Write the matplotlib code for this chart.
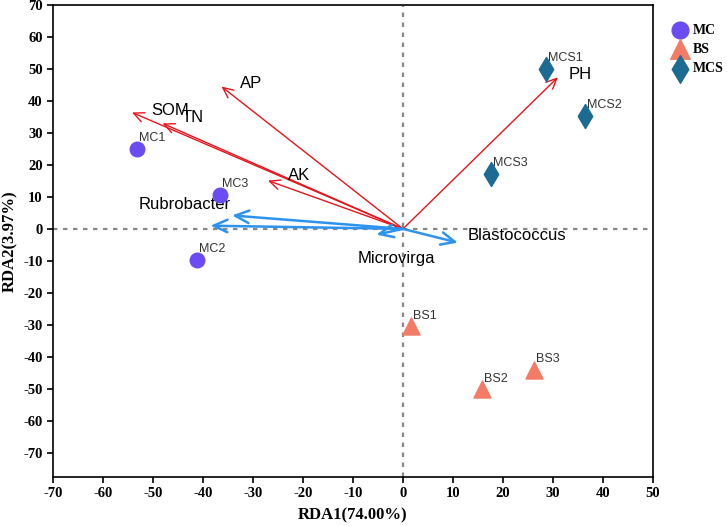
import matplotlib
matplotlib.use("Agg")
import matplotlib.pyplot as plt

plt.rcParams["axes.unicode_minus"] = False

# sample scores
mc_x = [-53.3, -41.3, -36.7]
mc_y = [24.9, -9.8, 10.5]
mc_names = ["MC1", "MC2", "MC3"]
bs_x = [1.6, 15.8, 26.3]
bs_y = [-30.5, -50.2, -44.0]
bs_names = ["BS1", "BS2", "BS3"]
mcs_x = [28.7, 36.5, 17.6]
mcs_y = [50.0, 35.3, 17.2]
mcs_names = ["MCS1", "MCS2", "MCS3"]

# environmental factors (red) and genera (blue)
env_names = ["PH", "AP", "SOM", "TN", "AK"]
env_x = [31.0, -36.3, -54.2, -48.1, -27.0]
env_y = [47.4, 44.5, 36.4, 33.0, 15.1]
env_lab_x = [33.2, -32.7, -50.3, -44.3, -23.0]
env_lab_y = [48.4, 45.5, 37.1, 34.9, 16.6]

gen_names = ["Rubrobacter", "", "Microvirga", "Blastococcus"]
gen_x = [-34.2, -38.5, -5.3, 11.0]
gen_y = [4.2, 1.0, -1.8, -4.3]
gen_lab_x = [-43.7, 0, -1.4, 12.9]
gen_lab_y = [7.5, 0, -9.4, -2.0]

serif = "Liberation Serif"
sans = "Liberation Sans"

fig = plt.figure(figsize=(7.27, 5.26), dpi=100)
ax = fig.add_axes([0.073, 0.093, 0.825, 0.8975])

ax.axhline(0, color="#888888", ls=(0, (2, 2.5)), lw=1.6, zorder=1)
ax.axvline(0, color="#888888", ls=(0, (2, 2.5)), lw=1.6, zorder=1)

for x, y in zip(env_x, env_y):
    ax.annotate("", xy=(x, y), xytext=(0, 0),
                arrowprops=dict(arrowstyle="->,head_length=0.75,head_width=0.35",
                                color="#e8141c", lw=1.0, shrinkA=0, shrinkB=0))
for n, x, y in zip(env_names, env_lab_x, env_lab_y):
    ax.text(x, y, n, fontsize=12, family=sans, va="center", ha="left", color="black")

for x, y in zip(gen_x, gen_y):
    ax.annotate("", xy=(x, y), xytext=(0, 0),
                arrowprops=dict(arrowstyle="->,head_length=1.0,head_width=0.45",
                                color="#2e93ee", lw=1.8, shrinkA=0, shrinkB=0))
for n, x, y in zip(gen_names, gen_lab_x, gen_lab_y):
    if n == "Blastococcus":
        ax.text(x, y, n, fontsize=12, family=sans, va="center", ha="left")
    elif n:
        ax.text(x, y, n, fontsize=12, family=sans, va="center", ha="center")

ax.scatter(mc_x, mc_y, s=110, marker="o", color="#6a4cf2", label="MC", zorder=3)
ax.scatter(bs_x, bs_y, s=150, marker="^", color="#f47b66", label="BS", zorder=3)
ax.scatter(mcs_x, mcs_y, s=150, marker="d", color="#1c6b93", label="MCS", zorder=3)

for xs, ys, names in [(mc_x, mc_y, mc_names), (bs_x, bs_y, bs_names), (mcs_x, mcs_y, mcs_names)]:
    for x, y, n in zip(xs, ys, names):
        ax.text(x + 0.4, y + 3.4, n, fontsize=9, family=sans, color="#333333",
                va="center", ha="left")

ax.set_xlim(-70, 50)
ax.set_ylim(-77.6, 70)
ax.set_xticks(range(-70, 51, 10))
ax.set_yticks(range(-70, 71, 10))
ax.tick_params(direction="out", length=4, width=1.2)
for lab in ax.get_xticklabels() + ax.get_yticklabels():
    lab.set_fontfamily(serif)
    lab.set_fontweight("bold")
    lab.set_fontsize(10.5)
for sp in ax.spines.values():
    sp.set_linewidth(1.2)

ax.set_xlabel("RDA1(74.00%)", fontsize=12, family=serif, fontweight="bold", labelpad=5)
ax.set_ylabel("RDA2(3.97%)", fontsize=12, family=serif, fontweight="bold", labelpad=4)

leg = ax.legend(loc="upper left", bbox_to_anchor=(1.013, 0.978), frameon=False,
                prop=dict(family=serif, weight="bold", size=10), markerscale=1.15,
                handlelength=1.6, handletextpad=0.1, labelspacing=0.45, borderaxespad=0.2)

fig.savefig("out.png", dpi=100)
